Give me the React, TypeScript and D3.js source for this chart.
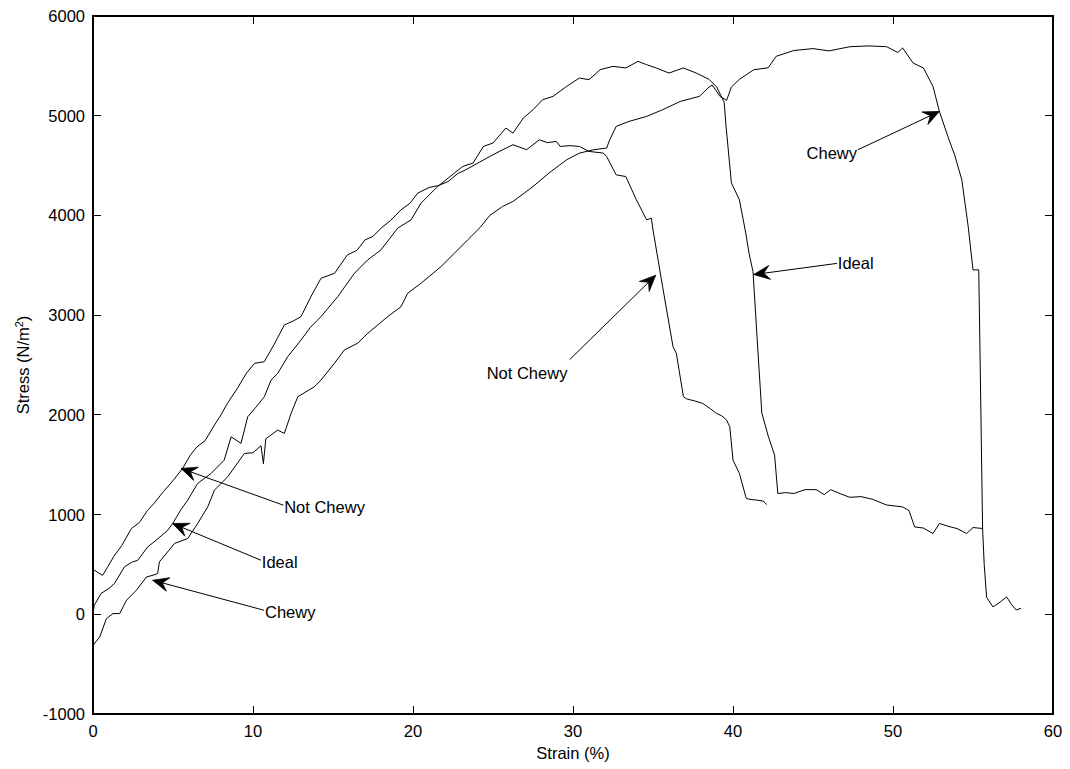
import React from 'react';
import * as d3 from 'd3';

// ---- Data (strain %, stress N/m^2) ----
const notChewyStrain = [0.0, 0.3, 0.6, 0.9, 1.3, 1.8, 2.4, 2.9, 3.4, 3.8, 4.4, 5.0, 5.6, 6.1, 6.5, 7.0, 7.6, 8.0, 8.4, 9.0, 9.6, 10.1, 10.7, 11.3, 11.96, 12.5, 13.0, 13.6, 14.25, 15.1, 15.9, 16.5, 17.0, 17.5, 18.0, 18.6, 19.25, 19.8, 20.3, 21.0, 21.6, 22.2, 22.8, 23.3, 24.0, 24.8, 25.5, 26.25, 27.1, 27.9, 28.4, 28.96, 29.2, 29.8, 30.4, 31.0, 31.9, 32.1, 32.7, 33.3, 33.96, 34.6, 34.9, 35.0, 35.6, 36.25, 36.46, 36.9, 37.1, 37.6, 38.1, 38.6, 38.96, 39.3, 39.6, 39.8, 40.0, 40.4, 40.8, 40.85, 41.2, 41.5, 41.9, 42.1];
const notChewyStress = [450, 420, 390, 470, 580, 690, 860, 920, 1040, 1110, 1230, 1340, 1463, 1600, 1680, 1740, 1900, 2000, 2115, 2260, 2420, 2517, 2533, 2700, 2902, 2940, 2985, 3180, 3370, 3420, 3604, 3650, 3755, 3790, 3872, 3950, 4056, 4120, 4224, 4280, 4300, 4340, 4420, 4458, 4520, 4591, 4650, 4709, 4659, 4759, 4730, 4742, 4692, 4700, 4692, 4642, 4625, 4591, 4407, 4390, 4157, 3956, 3973, 3855, 3286, 2684, 2617, 2182, 2160, 2140, 2115, 2060, 2015, 1990, 1948, 1880, 1546, 1413, 1178, 1160, 1150, 1145, 1135, 1100];

const idealStrain = [0.0, 0.08, 0.5, 1.0, 1.34, 1.96, 2.4, 2.8, 3.42, 4.0, 4.67, 4.98, 5.5, 5.92, 6.54, 7.38, 8.2, 8.63, 9.25, 9.67, 10.2, 10.71, 11.13, 11.54, 12.17, 13.0, 13.6, 14.25, 15.3, 16.34, 17.17, 18.0, 19.04, 19.88, 20.5, 21.54, 22.59, 23.1, 23.75, 24.4, 25.0, 25.8, 26.25, 26.9, 27.5, 28.1, 28.75, 29.6, 30.4, 31.0, 31.7, 32.5, 33.3, 34.06, 34.6, 35.2, 36.0, 36.9, 37.7, 38.5, 38.98, 39.45, 39.56, 39.9, 40.4, 40.8, 41.0, 41.25, 41.5, 41.8, 42.2, 42.6, 42.8, 43.3, 43.8, 44.5, 45.2, 45.7, 46.1, 46.7, 47.3, 48.0, 48.7, 49.6, 50.6, 51.0, 51.35, 51.9, 52.5, 52.9, 53.5, 54.0, 54.6, 55.0, 55.6];
const idealStress = [7, 90, 208, 260, 308, 475, 520, 542, 676, 750, 843, 910, 1050, 1145, 1312, 1413, 1546, 1780, 1714, 1981, 2080, 2182, 2349, 2416, 2583, 2751, 2880, 2985, 3186, 3420, 3554, 3655, 3872, 3956, 4123, 4290, 4425, 4491, 4525, 4692, 4726, 4876, 4826, 4977, 5060, 5160, 5194, 5294, 5378, 5361, 5462, 5495, 5479, 5545, 5512, 5479, 5428, 5479, 5428, 5365, 5288, 5134, 4904, 4327, 4156, 3822, 3621, 3437, 2788, 2019, 1788, 1596, 1211, 1220, 1211, 1250, 1250, 1200, 1250, 1210, 1173, 1180, 1154, 1096, 1077, 1040, 876, 865, 810, 911, 880, 860, 810, 870, 860];

const chewyStrain = [0.0, 0.42, 0.84, 1.25, 1.67, 2.09, 2.71, 3.34, 3.75, 4.04, 4.15, 5.09, 5.92, 6.5, 7.17, 7.59, 8.42, 9.46, 10.0, 10.5, 10.65, 10.8, 11.54, 11.96, 12.38, 12.8, 13.84, 14.25, 15.09, 15.71, 16.54, 17.17, 18.42, 19.25, 19.67, 20.5, 21.75, 22.59, 23.42, 24.2, 24.8, 25.6, 26.25, 27.5, 28.5, 29.6, 30.4, 31.3, 32.1, 32.3, 32.7, 33.5, 34.6, 35.6, 36.7, 37.9, 38.5, 38.7, 39.2, 39.6, 39.9, 40.4, 41.3, 42.2, 42.7, 43.8, 45.0, 46.0, 47.3, 48.5, 49.6, 50.3, 50.6, 51.25, 51.9, 52.5, 52.9, 53.5, 53.85, 54.3, 54.7, 55.0, 55.36, 55.45, 55.6, 55.7, 55.85, 56.25, 56.7, 57.1, 57.4, 57.7, 58.0];
const chewyStress = [-311, -227, -43, 7, 7, 140, 241, 374, 392, 408, 525, 710, 760, 900, 1077, 1245, 1379, 1613, 1620, 1690, 1510, 1760, 1847, 1814, 2015, 2182, 2282, 2349, 2517, 2651, 2718, 2818, 2985, 3085, 3220, 3320, 3487, 3621, 3755, 3880, 4000, 4090, 4140, 4290, 4425, 4558, 4625, 4659, 4676, 4760, 4893, 4943, 4993, 5060, 5143, 5194, 5288, 5308, 5192, 5154, 5288, 5365, 5461, 5481, 5596, 5654, 5673, 5650, 5692, 5700, 5692, 5634, 5680, 5529, 5479, 5294, 5043, 4759, 4608, 4357, 3889, 3454, 3454, 2500, 860, 500, 171, 73, 123, 174, 100, 43, 60];

const xTicks = [0, 10, 20, 30, 40, 50, 60];
const yTicks = [-1000, 0, 1000, 2000, 3000, 4000, 5000, 6000];

// annotations: label, text anchor point, text alignment, line tail, arrow tip (data units)
const annLabels = ['Not Chewy', 'Ideal', 'Chewy', 'Not Chewy', 'Ideal', 'Chewy'];
const annText = [[11.95, 1077], [10.55, 525], [10.75, 23], [29.65, 2420], [46.55, 3519], [47.75, 4631]];
const annAlign = ['start', 'start', 'start', 'end', 'start', 'end'];
const annTail = [[11.9, 1094], [10.5, 542], [10.7, 40], [29.8, 2555], [46.5, 3519], [47.8, 4658]];
const annTip = [[5.5, 1463], [4.98, 910], [3.73, 341], [35.17, 3400], [41.3, 3407], [52.9, 5043]];

const W = 1070, H = 769;
const L = 93, R = 1053, T = 16, B = 714;
const FONT = '"Liberation Sans", Arial, Helvetica, sans-serif';
const FS = 16.5;

function arrowHead(tip: number[], tail: number[]) {
  const dx = tail[0] - tip[0], dy = tail[1] - tip[1];
  const len = Math.hypot(dx, dy) || 1;
  const ux = dx / len, uy = dy / len;
  const nx = -uy, ny = ux;
  const HL = 16, HW = 7, NOTCH = 10;
  const p = [
    [tip[0], tip[1]],
    [tip[0] + ux * HL + nx * HW, tip[1] + uy * HL + ny * HW],
    [tip[0] + ux * NOTCH, tip[1] + uy * NOTCH],
    [tip[0] + ux * HL - nx * HW, tip[1] + uy * HL - ny * HW],
  ];
  return p.map((q) => q.join(',')).join(' ');
}

export default function App() {
  const x = d3.scaleLinear().domain([0, 60]).range([L, R]);
  const y = d3.scaleLinear().domain([-1000, 6000]).range([B, T]);
  const line = d3.line<[number, number]>().x((d) => x(d[0])).y((d) => y(d[1]));
  const series = [
    d3.zip(notChewyStrain, notChewyStress) as [number, number][],
    d3.zip(idealStrain, idealStress) as [number, number][],
    d3.zip(chewyStrain, chewyStress) as [number, number][],
  ];
  const tk = 8;
  return (
    <svg width={W} height={H} style={{ position: 'absolute', left: 0, top: 0, background: '#fff' }} fontFamily={FONT}>
      <rect x={0} y={0} width={W} height={H} fill="#fff" />
      {series.map((s, i) => (
        <path key={i} d={line(s) || ''} fill="none" stroke="#000" strokeWidth={1} strokeLinejoin="round" />
      ))}
      {/* frame */}
      <rect x={L} y={T} width={R - L} height={B - T} fill="none" stroke="#000" strokeWidth={1.2} shapeRendering="crispEdges" />
      {xTicks.map((t) => (
        <g key={'x' + t}>
          <line x1={x(t)} x2={x(t)} y1={B} y2={B - tk} stroke="#000" shapeRendering="crispEdges" />
          <line x1={x(t)} x2={x(t)} y1={T} y2={T + tk} stroke="#000" shapeRendering="crispEdges" />
          <text x={x(t)} y={737} textAnchor="middle" fontSize={FS} fill="#000">{t}</text>
        </g>
      ))}
      {yTicks.map((t) => (
        <g key={'y' + t}>
          <line x1={L} x2={L + tk} y1={y(t)} y2={y(t)} stroke="#000" shapeRendering="crispEdges" />
          <line x1={R} x2={R - tk} y1={y(t)} y2={y(t)} stroke="#000" shapeRendering="crispEdges" />
          <text x={L - 8} y={y(t)} textAnchor="end" dominantBaseline="central" fontSize={FS} fill="#000">{t}</text>
        </g>
      ))}
      <text x={(L + R) / 2} y={759} textAnchor="middle" fontSize={FS} fill="#000">Strain (%)</text>
      <text transform={`translate(29,${(T + B) / 2}) rotate(-90)`} textAnchor="middle" fontSize={FS} fill="#000">
        Stress (N/m<tspan dy={-6} fontSize={11}>2</tspan><tspan dy={6}>)</tspan>
      </text>
      {annLabels.map((lab, i) => {
        const tail = [x(annTail[i][0]), y(annTail[i][1])];
        const tip = [x(annTip[i][0]), y(annTip[i][1])];
        return (
          <g key={'a' + i}>
            <line x1={tail[0]} y1={tail[1]} x2={tip[0]} y2={tip[1]} stroke="#000" strokeWidth={1} />
            <polygon points={arrowHead(tip, tail)} fill="#000" stroke="#000" strokeWidth={0.8} strokeLinejoin="miter" />
            <text x={x(annText[i][0])} y={y(annText[i][1])} textAnchor={annAlign[i] as any} dominantBaseline="central" fontSize={FS} fill="#000">{lab}</text>
          </g>
        );
      })}
    </svg>
  );
}
